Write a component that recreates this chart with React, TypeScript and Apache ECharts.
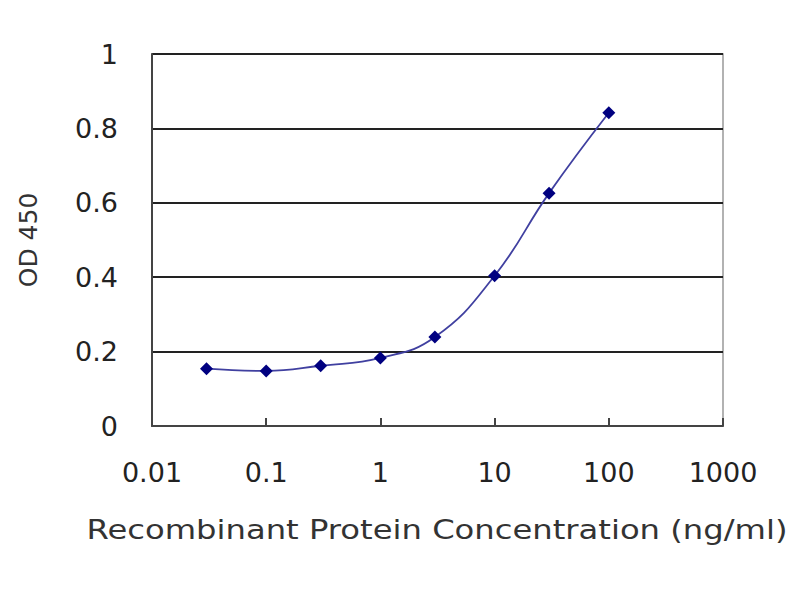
import React, { useEffect, useRef } from "react";
import * as echarts from "echarts";

const concentrations = [0.03, 0.1, 0.3, 1, 3, 10, 30, 100];
const odValues = [0.154, 0.148, 0.162, 0.183, 0.239, 0.404, 0.626, 0.842];
const xTitle = "Recombinant Protein Concentration (ng/ml)";
const yTitle = "OD 450";

export default function App() {
  const ref = useRef<HTMLDivElement>(null);
  useEffect(() => {
    document.body.style.margin = "0";
    const chart = echarts.init(ref.current!, null, { renderer: "svg" });
    const font = "DejaVu Sans";
    chart.setOption({
      animation: false,
      backgroundColor: "#ffffff",
      grid: {
        left: 152,
        right: 77,
        top: 54,
        bottom: 174,
        show: true,
        borderColor: "#999999",
        borderWidth: 1.5,
      },
      graphic: [
        {
          type: "text",
          x: 437,
          y: 530,
          scaleX: 1.24,
          style: {
            text: xTitle,
            fontFamily: font,
            fontSize: 26,
            fill: "#333333",
            align: "center",
            verticalAlign: "middle",
          },
        },
      ],
      xAxis: {
        type: "log",
        logBase: 10,
        min: 0.01,
        max: 1000,
        axisLine: { show: true, lineStyle: { color: "#444444", width: 2 } },
        axisTick: { show: true, inside: true, length: 8, lineStyle: { color: "#444444", width: 2 } },
        axisLabel: {
          fontFamily: font,
          fontSize: 27,
          color: "#222222",
          margin: 33,
          formatter: (v: number) => String(v),
        },
        splitLine: { show: false },
        minorTick: { show: false },
      },
      yAxis: {
        type: "value",
        min: 0,
        max: 1,
        interval: 0.2,
        name: yTitle,
        nameLocation: "middle",
        nameGap: 111,
        nameTextStyle: { fontFamily: font, fontSize: 25, color: "#333333" },
        axisLine: { show: true, lineStyle: { color: "#444444", width: 2 } },
        axisTick: { show: false },
        axisLabel: { fontFamily: font, fontSize: 27, color: "#222222", margin: 34 },
        splitLine: { show: true, lineStyle: { color: "#222222", width: 2 } },
      },
      series: [
        {
          type: "line",
          data: concentrations.map((c, i) => [c, odValues[i]]),
          smooth: 0.45,
          symbol: "diamond",
          symbolSize: 13,
          itemStyle: { color: "#000080" },
          lineStyle: { color: "#4040a0", width: 1.8 },
        },
      ],
    });
    return () => chart.dispose();
  }, []);
  return <div ref={ref} style={{ width: 800, height: 600 }} />;
}
